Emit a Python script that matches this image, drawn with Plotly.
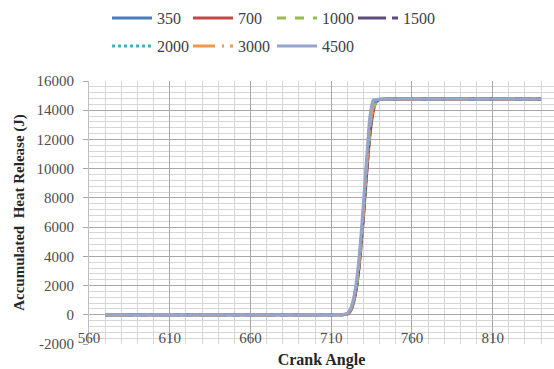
import plotly.graph_objects as go

# Crank angle samples (deg)
crank = [570, 600, 650, 700, 710, 716, 718, 720, 722, 724, 726, 728, 730, 732,
         734, 736, 738, 740, 742, 745, 760, 800, 840]

# Accumulated heat release (J) per engine speed (rpm)
q350  = [0, 0, 0, 0, 0, 5, 20, 60, 320, 1000, 2200, 4300, 7000, 10000,
         12600, 14100, 14650, 14740, 14755, 14760, 14765, 14770, 14770]
q700  = [0, 0, 0, 0, 0, 5, 15, 50, 260, 900, 2050, 4100, 6700, 9700,
         12300, 13900, 14600, 14730, 14750, 14760, 14765, 14770, 14770]
q1000 = [0, 0, 0, 0, 0, 5, 15, 50, 280, 950, 2100, 4150, 6800, 9800,
         12400, 14000, 14620, 14735, 14750, 14760, 14765, 14770, 14770]
q1500 = [0, 0, 0, 0, 0, 5, 20, 55, 300, 980, 2150, 4200, 6900, 9900,
         12500, 14050, 14640, 14740, 14755, 14760, 14765, 14770, 14770]
q2000 = [0, 0, 0, 0, 0, 5, 20, 60, 330, 1020, 2250, 4350, 7050, 10100,
         12700, 14150, 14660, 14740, 14755, 14760, 14765, 14770, 14770]
q3000 = [0, 0, 0, 0, 0, 8, 25, 70, 360, 1080, 2350, 4500, 7250, 10300,
         12900, 14250, 14680, 14745, 14755, 14760, 14765, 14770, 14770]
q4500 = [0, 0, 0, 0, 0, 10, 30, 90, 420, 1200, 2600, 4800, 7700, 10800,
         13600, 14700, 14740, 14750, 14755, 14760, 14765, 14770, 14770]

speeds = ["350", "700", "1000", "1500", "2000", "3000", "4500"]
series = [q350, q700, q1000, q1500, q2000, q3000, q4500]

# Axis ticks
x_ticks = [560, 610, 660, 710, 760, 810]
y_ticks = [-2000, 0, 2000, 4000, 6000, 8000, 10000, 12000, 14000, 16000]
y_labels = ["-2000", "0", "2000", "4000", "6000", "8000", "10000", "12000", "14000", "16000"]

colors = ["#4A7EBB", "#BE4B48", "#98B954", "#5E4B7C", "#4BACC6", "#F79646", "#95A5CC"]
dashes = ["solid", "solid", "9px,9px", "28px,6px,7px,6px", "3px,3px",
          "22px,7px,2px,6px,7px,4px", "solid"]

# legend entry positions (px from left, px from top) - layout only
leg_pos = [(107, 1), (188, 1), (272, 1), (353, 1), (107, 29), (188, 29), (272, 29)]

serif = "Liberation Serif"
tick_font = dict(family=serif, size=15, color="#4d4d4d")

fig = go.Figure()
legend_layout = {}
for i, (name, ys, c, d) in enumerate(zip(speeds, series, colors, dashes)):
    key = "legend" if i == 0 else f"legend{i + 1}"
    fig.add_trace(go.Scatter(
        x=crank, y=ys, name=name, mode="lines", showlegend=True,
        line=dict(color=c, width=3, dash=d, shape="spline", smoothing=0.6),
        legend=key,
    ))
    px, py = leg_pos[i]
    legend_layout[key] = dict(
        orientation="h", xref="container", yref="container",
        xanchor="left", yanchor="top",
        x=px / 554, y=1 - py / 369,
        font=dict(family=serif, size=16, color="#404040"),
        bgcolor="rgba(0,0,0,0)", itemwidth=40,
    )

fig.update_layout(
    width=554, height=369,
    showlegend=True,
    font=dict(family=serif),
    margin=dict(l=89, r=0, t=81, b=25),
    paper_bgcolor="white", plot_bgcolor="white",
    xaxis=dict(
        range=[560, 848], tickvals=x_ticks, ticktext=[str(v) for v in x_ticks],
        anchor="free", position=2000 / 18000,
        showgrid=True, gridcolor="#a8a8a8", gridwidth=1,
        minor=dict(dtick=10, tick0=560, showgrid=True, gridcolor="#d6d6d6", gridwidth=1),
        showline=False, zeroline=False,
        ticks="", ticklabelstandoff=12,
        tickfont=tick_font, automargin=False,
        title=dict(text="<b>Crank Angle</b>", standoff=11,
                   font=dict(family=serif, size=16, color="#262626")),
    ),
    yaxis=dict(
        range=[-2000, 16000], tickvals=y_ticks, ticktext=y_labels,
        showgrid=True, gridcolor="#a8a8a8", gridwidth=1,
        minor=dict(dtick=400, tick0=0, showgrid=True, gridcolor="#d6d6d6", gridwidth=1),
        zeroline=False, showline=True, linecolor="#bfbfbf",
        ticks="outside", ticklen=5, tickcolor="#a8a8a8",
        ticklabelstandoff=6,
        tickfont=tick_font, automargin=False,
        title=dict(text="<b>Accumulated  Heat Release (J)</b>", standoff=8,
                   font=dict(family=serif, size=15, color="#262626")),
    ),
    **legend_layout,
)

fig.write_html("out.html")
